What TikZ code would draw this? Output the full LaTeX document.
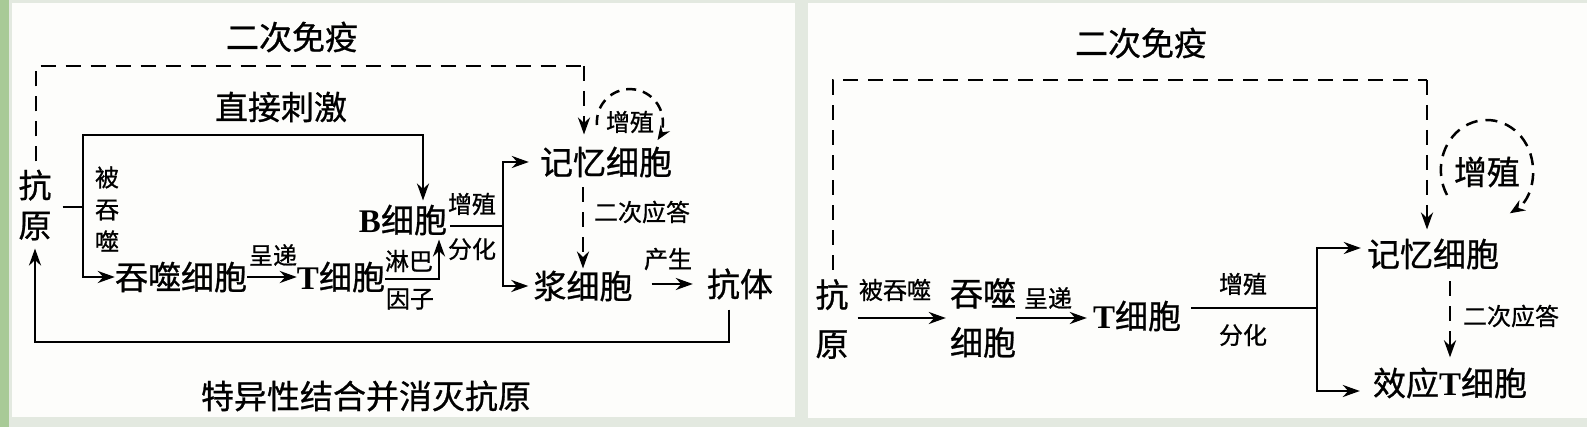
\documentclass[tikz,border=0pt]{standalone}
\usepackage{fontspec}
\setmainfont{Liberation Serif}
\newfontfamily\cjk{Noto Sans CJK SC}[FakeBold=0.8]
\usetikzlibrary{arrows.meta,calc}

\definecolor{outerbg}{HTML}{E3E9E0}
\definecolor{stripbg}{HTML}{A8CA97}
\definecolor{panelbg}{HTML}{FDFDFB}

\begin{document}
\begin{tikzpicture}[x=1pt,y=1pt,yscale=-1,
  big/.style={font={\cjk\fontsize{33}{40}\selectfont},inner sep=0pt,align=center},
  tall/.style={font={\cjk\fontsize{33}{49}\selectfont},inner sep=0pt,align=center},
  small/.style={font={\cjk\fontsize{24}{32}\selectfont},inner sep=0pt,align=center},
  line/.style={line width=2.8pt},
  arr/.style={line width=2.8pt,-{Stealth[length=17pt,width=12pt]}},
  dline/.style={line width=2.8pt,dash pattern=on 15pt off 10pt},
  dloop/.style={line width=2.5pt,dash pattern=on 10pt off 7pt},
]
\useasboundingbox (0,0) rectangle (1587,427);

% background and the two panels
\fill[outerbg] (0,0) rectangle (1587,427);
\fill[stripbg] (0,0) rectangle (9,427);
\fill[panelbg] (12,3) rectangle (795,417);
\fill[panelbg] (808,3) rectangle (1587,418);

%%%%% left panel: humoral immunity
\node[big] (title1) at (292,37) {二次免疫};
\node[big] (direct) at (281,107) {直接刺激};
\node[big] (ag) at (35,205) {抗\\原};
\node[small] (eat1) at (107,209) {被\\吞\\噬};
\node[big] (phag) at (181,277) {吞噬细胞};
\node[small] (give1) at (273,255) {呈递};
\node[big] (tc) at (341,277) {{\rmfamily\bfseries T}细胞};
\node[small] (lf1) at (409,261) {淋巴};
\node[small] (lf2) at (410,299) {因子};
\node[big] (bc) at (403,220) {{\rmfamily\bfseries B}细胞};
\node[small] (pro1) at (472,204) {增殖};
\node[small] (dif1) at (472,249) {分化};
\node[big] (mem) at (606,162) {记忆细胞};
\node[small] (loop1) at (630,122) {增殖};
\node[small] (sec1) at (642,212) {二次应答};
\node[big] (pl) at (583,286) {浆细胞};
\node[small] (make) at (668,259) {产生};
\node[big] (ab) at (740,284) {抗体};
\node[big] (kill) at (366,396) {特异性结合并消灭抗原};

% corner points
\coordinate (d1) at (36,66);
\coordinate (d2) at (584,66);
\coordinate (fork) at (83,207);
\coordinate (k1) at (423,135);
\coordinate (k2) at (439,279);
\coordinate (k3) at (503,226);
\coordinate (k4) at (729,342);

% secondary immunity
\draw[dline,shorten <=8pt] (ag.north -| d1) -- (d1) -- (d2);
\draw[dline,-{Stealth[length=17pt,width=12pt]},shorten >=12pt] (d2) -- (d2 |- mem.north);
% antigen -> phagocyte / B cell
\draw[line,shorten <=11pt] (ag.east |- fork) -- (fork);
\draw[arr] (fork) |- (phag.west);
\draw[arr,shorten >=4pt] (fork) |- (k1) -- (k1 |- bc.north);
\draw[arr] (phag.east) -- (tc.west);
\draw[arr,shorten >=4pt] (tc.east |- k2) -- (k2) -- (k2 |- bc.south);
% B cell -> memory / plasma
\draw[line,shorten <=3pt] (bc.east |- k3) -- (k3);
\draw[arr,shorten >=11pt] (k3) |- (mem.west);
\draw[arr,shorten >=5pt] (k3) |- (pl.west);
\draw[dline,-{Stealth[length=17pt,width=12pt]},shorten <=10pt,shorten >=2pt] (pl.north |- mem.south) -- (pl.north);
\draw[arr,shorten <=19pt,shorten >=14pt] (pl.east |- ab.west) -- (ab.west);
\draw[dloop,-{Stealth[length=14pt,width=11pt]}] ($(loop1)+(-33,3)$) arc[start angle=175,end angle=393,radius=33];
% antibody -> antigen
\draw[arr,shorten >=8pt] ($(ab.south)+(-11,10)$) -- (k4) -| (ag.south);

%%%%% right panel: cellular immunity
\node[big] (title2) at (1141,43) {二次免疫};
\node[tall] (ag2) at (832,319) {抗\\原};
\node[small] (eat2) at (895,290) {被吞噬};
\node[tall] (phag2) at (983,318) {吞噬\\细胞};
\node[small] (give2) at (1048,298) {呈递};
\node[big] (tc2) at (1137,316) {{\rmfamily\bfseries T}细胞};
\node[small] (pro2) at (1243,284) {增殖};
\node[small] (dif2) at (1243,335) {分化};
\node[big] (mem2) at (1433,254) {记忆细胞};
\node[big] (loop2) at (1487,172) {增殖};
\node[small] (sec2) at (1511,316) {二次应答};
\node[big] (eff) at (1450,383) {效应{\rmfamily\bfseries T}细胞};

\coordinate (d3) at (833,80);
\coordinate (d4) at (1427,80);
\coordinate (k5) at (1317,308);

\draw[dline,shorten <=9pt] (ag2.north -| d3) -- (d3) -- (d4);
\draw[dline,-{Stealth[length=17pt,width=12pt]},shorten >=9pt] (d4) -- (d4 |- mem2.north);
\draw[arr,shorten <=9pt,shorten >=4pt] (ag2.east |- phag2.west) -- (phag2.west);
\draw[arr,shorten >=6pt] (phag2.east) -- (phag2.east -| tc2.west);
\draw[line,shorten <=10pt] (tc2.east |- k5) -- (k5);
\draw[arr,shorten >=6pt] (k5) |- ($(mem2.west)+(0,-6)$);
\draw[arr,shorten >=13pt] (k5) |- ($(eff.west)+(0,8)$);
\draw[dline,-{Stealth[length=17pt,width=12pt]},shorten <=12pt,shorten >=10pt] (eff.north |- mem2.south) -- (eff.north);
\draw[dloop,dash pattern=on 12pt off 8pt,-{Stealth[length=15pt,width=12pt]}] ($(loop2)+(-40,23)$) arc[start angle=150,end angle=420,x radius=46,y radius=50];

\end{tikzpicture}
\end{document}
